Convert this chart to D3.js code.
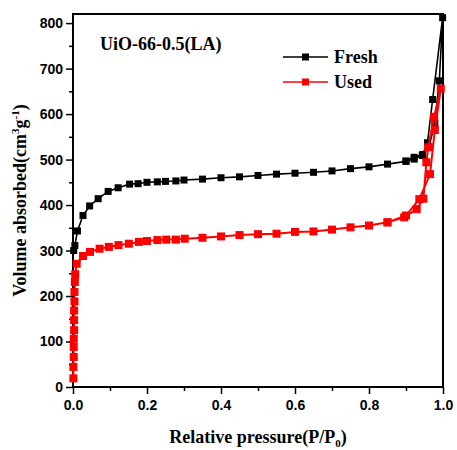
<!DOCTYPE html>
<html>
<head>
<meta charset="utf-8">
<script src="https://cdn.jsdelivr.net/npm/d3@7"></script>
<style>
  body { margin: 0; background: #fff; }
  .tick text { font-family: "Liberation Sans", Arial, sans-serif; font-weight: bold; font-size: 14px; fill: #000; }
  .ttl { font-family: "Liberation Serif", "Times New Roman", serif; font-weight: bold; font-size: 18px; fill: #000; }
</style>
</head>
<body>
<div id="chart"></div>
<script>
// Relative pressure (P/P0) and adsorbed volume, adsorption then desorption branch
const freshP = [0.002, 0.005, 0.012, 0.027, 0.045, 0.068, 0.095, 0.122, 0.153, 0.176, 0.2, 0.228, 0.25, 0.278, 0.3,
    0.35, 0.4, 0.45, 0.5, 0.55, 0.6, 0.65, 0.7, 0.75, 0.8, 0.85, 0.9, 0.922, 0.944, 0.962, 0.978, 0.99, 0.999,
    0.972, 0.958, 0.945, 0.922, 0.9];
const freshV = [300, 311, 343, 377, 398, 414, 430, 438, 446, 447, 450, 451, 452, 453, 455,
    457, 460, 462, 465, 468, 470, 472, 475, 480, 484, 490, 496, 501, 509, 528, 580, 673, 812,
    632, 537, 511, 505, 497];

const usedP = [0.001, 0.001, 0.002, 0.002, 0.002, 0.003, 0.003, 0.003, 0.004, 0.004, 0.005, 0.006, 0.01,
    0.027, 0.046, 0.072, 0.097, 0.123, 0.151, 0.178, 0.2, 0.228, 0.252, 0.278, 0.302,
    0.35, 0.4, 0.45, 0.5, 0.55, 0.6, 0.65, 0.7, 0.75, 0.8, 0.85, 0.9, 0.936, 0.965, 0.978, 0.994,
    0.976, 0.96, 0.955, 0.947, 0.929, 0.895, 0.85];
const usedV = [19, 44, 66, 88, 106, 125, 147, 168, 188, 209, 231, 248, 271,
    288, 297, 304, 308, 312, 315, 319, 321, 323, 324, 324, 326,
    328, 331, 334, 336, 337, 341, 342, 346, 351, 355, 362, 377, 413, 468, 565, 656,
    594, 527, 494, 414, 391, 373, 362];

const xTicks = [0, 0.2, 0.4, 0.6, 0.8, 1.0];
const yTicks = [0, 100, 200, 300, 400, 500, 600, 700, 800];
const seriesNames = ['Fresh', 'Used'];
const seriesColors = ['#000000', '#ff0000'];

const W = 457, H = 450;
const margin = { top: 14, right: 14, bottom: 63, left: 73 };
const width = W - margin.left - margin.right;
const height = H - margin.top - margin.bottom;

const svg = d3.select('#chart').append('svg')
    .attr('width', W).attr('height', H);
const g = svg.append('g').attr('transform', `translate(${margin.left},${margin.top})`);

const x = d3.scaleLinear().domain([0, 1]).range([0, width]);
const y = d3.scaleLinear().domain([0, 820]).range([height, 0]);

// minor ticks
g.append('g').attr('transform', `translate(0,${height})`)
    .call(d3.axisBottom(x).tickValues(d3.range(0.1, 1, 0.2)).tickSize(4).tickFormat(''))
    .call(a => a.select('.domain').remove())
    .selectAll('line').attr('stroke-width', 1.5);
g.append('g')
    .call(d3.axisLeft(y).tickValues(d3.range(50, 800, 100)).tickSize(4).tickFormat(''))
    .call(a => a.select('.domain').remove())
    .selectAll('line').attr('stroke-width', 1.5);

// major ticks
const xa = g.append('g').attr('transform', `translate(0,${height})`)
    .call(d3.axisBottom(x).tickValues(xTicks).tickSize(7).tickPadding(6).tickFormat(d3.format('.1f')));
xa.select('.domain').remove();
xa.selectAll('line').attr('stroke-width', 1.5);

const ya = g.append('g')
    .call(d3.axisLeft(y).tickValues(yTicks).tickSize(7).tickPadding(3));
ya.select('.domain').remove();
ya.selectAll('line').attr('stroke-width', 1.5);

// frame
g.append('rect')
    .attr('x', 0).attr('y', 0).attr('width', width).attr('height', height)
    .attr('fill', 'none').attr('stroke', '#000').attr('stroke-width', 2);

// series
const series = [
    freshP.map((p, i) => [p, freshV[i]]),
    usedP.map((p, i) => [p, usedV[i]])
];
const line = d3.line().x(d => x(d[0])).y(d => y(d[1]));

series.forEach((data, i) => {
    g.append('path').datum(data)
        .attr('fill', 'none').attr('stroke', seriesColors[i])
        .attr('stroke-width', i === 0 ? 1.6 : 2)
        .attr('d', line);
    const s = i === 0 ? 7 : 8;
    g.selectAll('.pt' + i).data(data).enter().append('rect')
        .attr('class', 'pt' + i)
        .attr('x', d => x(d[0]) - s / 2).attr('y', d => y(d[1]) - s / 2)
        .attr('width', s).attr('height', s)
        .attr('fill', seriesColors[i]);
});

// sample label
g.append('text').attr('class', 'ttl')
    .attr('x', 27).attr('y', 36)
    .text('UiO-66-0.5(LA)');

// legend
const legend = g.append('g').attr('transform', `translate(${283 - margin.left},${57 - margin.top})`);
seriesNames.forEach((name, i) => {
    const row = legend.append('g').attr('transform', `translate(0,${i * 25})`);
    row.append('line').attr('x1', 0).attr('x2', 45).attr('y1', 0).attr('y2', 0)
        .attr('stroke', seriesColors[i]).attr('stroke-width', 1.6);
    row.append('rect').attr('x', 19).attr('y', -3.5).attr('width', 7).attr('height', 7)
        .attr('fill', seriesColors[i]);
    row.append('text').attr('class', 'ttl').attr('x', 51).attr('y', 6).text(name);
});

// axis titles
const xt = svg.append('text').attr('class', 'ttl')
    .attr('x', margin.left + width / 2).attr('y', 443).attr('text-anchor', 'middle');
xt.append('tspan').text('Relative pressure(P/P');
xt.append('tspan').attr('dy', 4).style('font-size', '11px').text('0');
xt.append('tspan').attr('dy', -4).text(')');

const yt = svg.append('text').attr('class', 'ttl')
    .attr('transform', `translate(26,${margin.top + height / 2}) rotate(-90)`)
    .attr('text-anchor', 'middle');
yt.append('tspan').text('Volume absorbed(cm');
yt.append('tspan').attr('dy', -7).style('font-size', '11px').text('3');
yt.append('tspan').attr('dy', 7).text('g');
yt.append('tspan').attr('dy', -7).style('font-size', '11px').text('-1');
yt.append('tspan').attr('dy', 7).text(')');
</script>
</body>
</html>
